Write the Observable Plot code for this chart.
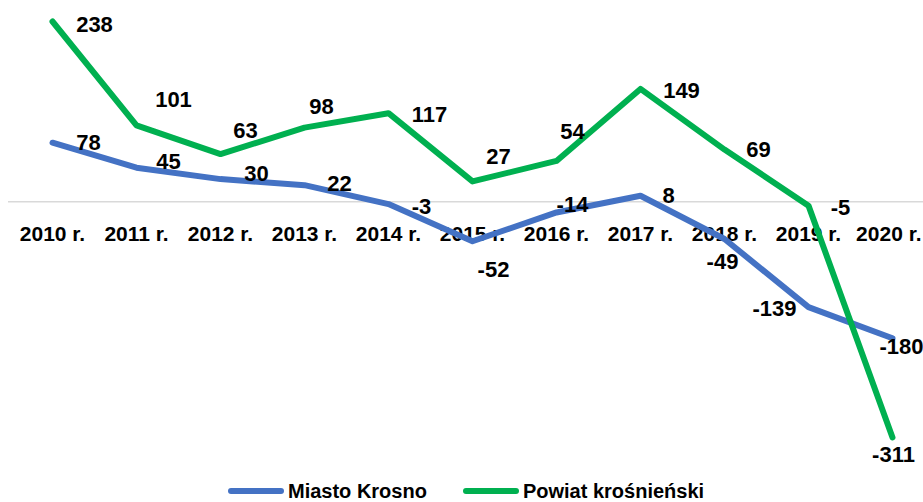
<!DOCTYPE html>
<html>
<head>
<meta charset="utf-8">
<script src="https://cdn.jsdelivr.net/npm/d3@7"></script>
<script src="https://cdn.jsdelivr.net/npm/@observablehq/plot@0.6"></script>
<style>
  html, body { margin: 0; padding: 0; background: #fff; }
  #chart { width: 923px; }
  .legend { display: flex; justify-content: flex-start; align-items: center; height: 22px;
    font-family: "Liberation Sans", Arial, sans-serif; font-weight: bold; font-size: 20px; color: #000; }
  .legend .item { display: flex; align-items: center; }
  .legend .sw { width: 56px; height: 6px; border-radius: 3px; margin-right: 4px; }
</style>
</head>
<body>
<div id="chart"></div>
<script>
// ---- data ----
const years = ["2010 r.", "2011 r.", "2012 r.", "2013 r.", "2014 r.", "2015 r.", "2016 r.", "2017 r.", "2018 r.", "2019 r.", "2020 r."];
const krosno = [78, 45, 30, 22, -3, -52, -14, 8, -49, -139, -180];
const powiat = [238, 101, 63, 98, 117, 27, 54, 149, 69, -5, -311];
const seriesNames = ["Miasto Krosno", "Powiat krośnieński"];

// ---- layout (label offsets in px) ----
const krosnoOffsets = [[36, 0], [32, -6], [36, -5], [35, -1], [33, 3], [21, 29], [16, -7], [28, 0], [-2, 23], [-34, 2], [9, 9]];
const powiatOffsets = [[42, 3], [37, -25], [25, -23], [17, -21], [41, 2], [26, -24], [16, -29], [41, 2], [34, 0], [32, 2], [1, 17]];
const colors = ["#4472C4", "#00B050"];
const font = "Liberation Sans, Arial, sans-serif";

const dataK = years.map((y, i) => ({year: y, value: krosno[i]}));
const dataP = years.map((y, i) => ({year: y, value: powiat[i]}));

function labels(data, offs) {
  return data.map((d, i) => Plot.text([d], {
    x: "year", y: "value", text: d => String(d.value),
    dx: offs[i][0], dy: offs[i][1],
    fontSize: 22, fontWeight: "bold", fill: "#000"
  }));
}

const firstTicks = years.slice(0, -1);
const lastTick = years.slice(-1);

const chart = Plot.plot({
  width: 923,
  height: 480,
  marginLeft: 8, marginRight: 0, marginTop: 0, marginBottom: 0,
  style: {fontFamily: font, background: "#fff"},
  x: {type: "point", domain: years, range: [50, 893], padding: 0, axis: null},
  y: {domain: [-311, 238], range: [437, 21], axis: null},
  marks: [
    Plot.ruleY([0], {stroke: "#d9d9d9", strokeWidth: 1.5}),
    Plot.text(firstTicks, {x: d => d, y: () => 0, text: d => d, dy: 32, fontSize: 21, fontWeight: "bold", fill: "#000"}),
    Plot.text(lastTick, {x: d => d, y: () => 0, text: d => d, dy: 32, dx: 29, textAnchor: "end", fontSize: 21, fontWeight: "bold", fill: "#000"}),
    Plot.line(dataK, {x: "year", y: "value", stroke: colors[0], strokeWidth: 6, strokeLinecap: "round", strokeLinejoin: "round"}),
    Plot.line(dataP, {x: "year", y: "value", stroke: colors[1], strokeWidth: 6, strokeLinecap: "round", strokeLinejoin: "round"}),
    ...labels(dataK, krosnoOffsets),
    ...labels(dataP, powiatOffsets)
  ]
});
document.getElementById("chart").appendChild(chart);

const legend = document.createElement("div");
legend.className = "legend";
legend.style.paddingLeft = "228px";
seriesNames.forEach((name, i) => {
  const item = document.createElement("div");
  item.className = "item";
  if (i > 0) item.style.marginLeft = "36px";
  const sw = document.createElement("span");
  sw.className = "sw";
  sw.style.background = colors[i];
  const t = document.createElement("span");
  t.textContent = name;
  item.appendChild(sw);
  item.appendChild(t);
  legend.appendChild(item);
});
document.getElementById("chart").appendChild(legend);
</script>
</body>
</html>
